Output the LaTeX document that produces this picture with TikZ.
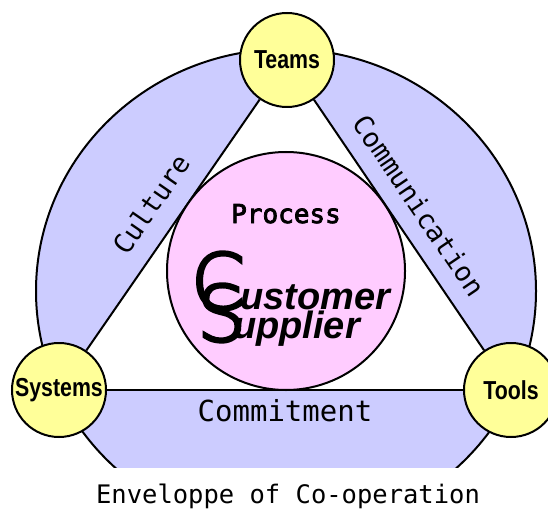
\documentclass[tikz,border=0pt]{standalone}
\usepackage{fontspec}
\setmainfont{Liberation Sans}
\newfontfamily\monofont{DejaVu Sans Mono}
\newfontfamily\processfont[FakeBold=3]{DejaVu Sans Mono}
\newfontfamily\narrowfont[FakeStretch=0.82]{Liberation Sans}
\IfFontExistsTF{DejaVu Sans ExtraLight}
  {\newfontfamily\thinfont[FakeBold=4]{DejaVu Sans ExtraLight}}
  {\newfontfamily\thinfont{DejaVu Sans}}
\definecolor{envelope}{HTML}{CCCCFF}
\definecolor{core}{HTML}{FFCCFF}
\definecolor{hubyellow}{HTML}{FFFF99}
\pgfdeclarelayer{back}
\pgfdeclarelayer{middle}
\pgfsetlayers{back,middle,main}
\tikzset{
  rim/.style={draw=black,line width=2pt},
  hub/.style={circle,rim,fill=hubyellow,minimum size=94pt,inner sep=0pt,
    font=\narrowfont\bfseries\fontsize{26}{28}\selectfont},
  side/.style={font=\monofont\fontsize{27}{30}\selectfont},
}
\begin{document}
\begin{tikzpicture}[x=1pt,y=1pt]
\useasboundingbox (0,0) rectangle (548,512);
\clip (0,0) rectangle (548,512);
% corners of the triangle
\node[hub] (teams) at (287,452) {Teams};
\node[hub] (systems) at (59,122) {Systems};
\node[hub] (tools) at (511,122) {Tools};
% outer band, cut flat at the bottom
\begin{pgfonlayer}{back}
\begin{scope}
\clip (0,45) rectangle (548,512);
\draw[rim,fill=envelope] (286,221) ellipse [x radius=250pt,y radius=242pt];
\end{scope}
\end{pgfonlayer}
% sides
\begin{pgfonlayer}{middle}
\fill[white] (teams.center) -- (systems.center) -- (tools.center) -- cycle;
\draw[rim] (systems) -- node[side,sloped,above=15pt,pos=0.515]{Culture} (teams);
\draw[rim] (teams) -- node[side,sloped,above=13pt,pos=0.485]{Communication} (tools);
\draw[rim] (systems) -- node[side,below=5pt,font=\monofont\fontsize{29}{32}\selectfont]{Commitment} (tools);
\end{pgfonlayer}
% centre
\node[circle,rim,fill=core,minimum size=238pt,inner sep=0pt] (core) at (286,241) {};
\node[anchor=base,font=\processfont\fontsize{26}{28}\selectfont] (process) at (286,289) {Process};
\node[anchor=base west,inner sep=0pt,font=\thinfont\fontsize{77}{77}\selectfont] (bigc) at (191,203) {C};
\node[anchor=base west,inner sep=0pt,font=\thinfont\fontsize{77}{77}\selectfont] (bigs) at (197,171) {S};
\node[anchor=base west,inner sep=0pt,font=\bfseries\itshape\fontsize{38}{40}\selectfont] (customer) at (240,203) {ustomer};
\node[anchor=base west,inner sep=0pt,font=\bfseries\itshape\fontsize{38}{40}\selectfont] (supplier) at (233,174) {upplier};
% caption
\node[anchor=base,font=\monofont\fontsize{25.5}{28}\selectfont] (caption) at (288,9) {Enveloppe of Co-operation};
\end{tikzpicture}
\end{document}
